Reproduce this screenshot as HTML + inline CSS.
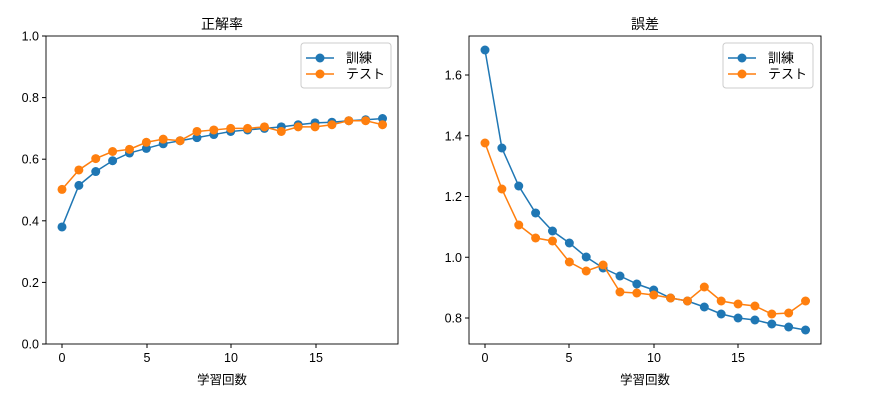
<!DOCTYPE html><html><head><meta charset="utf-8"><style>body{margin:0;background:#fff}svg{font-family:"Liberation Sans","Noto Sans CJK JP",sans-serif}</style></head><body>
<svg id="s" width="886" height="404" xmlns="http://www.w3.org/2000/svg"></svg>
<script>
const s=document.getElementById('s');let h='';
function axes(x0,x1,y0,y1,xs,yt,title,data,leg){
 h+=`<text x="${(x0+x1)/2}" y="${y0-7}" font-size="14" text-anchor="middle">${title}</text>`;
 xs.forEach(([v,p])=>{h+=`<line x1="${p}" y1="${y1}" x2="${p}" y2="${y1+4}" stroke="#000"/><text x="${p}" y="${y1+18}" font-size="12.5" text-anchor="middle">${v}</text>`});
 yt.forEach(([v,p])=>{h+=`<line x1="${x0-4}" y1="${p}" x2="${x0}" y2="${p}" stroke="#000"/><text x="${x0-7}" y="${p+4.5}" font-size="12.5" text-anchor="end">${v}</text>`});
 h+=`<text x="${(x0+x1)/2}" y="${y1+40}" font-size="12.5" text-anchor="middle">学習回数</text>`;
 data.forEach(([c,ys,fx])=>{let pts=ys.map((y,i)=>[fx(i),y]);h+=`<polyline fill="none" stroke="${c}" stroke-width="1.5" points="${pts.map(p=>p.join(',')).join(' ')}"/>`;pts.forEach(p=>h+=`<circle cx="${p[0]}" cy="${p[1]}" r="4.5" fill="${c}"/>`)});
 h+=`<rect x="${x0}" y="${y0}" width="${x1-x0}" height="${y1-y0}" fill="none" stroke="#000" stroke-width="0.9"/>`;
 const lx=leg;h+=`<rect x="${lx}" y="43" width="90" height="45" rx="3" fill="#fff" fill-opacity="0.8" stroke="#ccc"/>`;
 [['#1f77b4','訓練',58],['#ff7f0e','テスト',74]].forEach(([c,t,y])=>{h+=`<line x1="${lx+5}" y1="${y}" x2="${lx+33}" y2="${y}" stroke="${c}" stroke-width="1.5"/><circle cx="${lx+19}" cy="${y}" r="4.5" fill="${c}"/><text x="${lx+45}" y="${y+4.5}" font-size="13">${t}</text>`});
}
const lt=[.38,.515,.56,.595,.62,.635,.65,.66,.67,.68,.69,.695,.70,.705,.712,.718,.72,.725,.728,.732].map(v=>344-308*v);
const le=[.502,.565,.602,.625,.632,.655,.665,.66,.69,.695,.70,.70,.705,.69,.705,.705,.712,.725,.725,.712].map(v=>344-308*v);
const fl=i=>62+16.87*i,fr=i=>485+16.87*i;
axes(46,398,36,344,[[0,62],[5,147],[10,231],[15,316]],[0,.2,.4,.6,.8,1].map(v=>[v.toFixed(1),344-308*v]),'正解率',[['#1f77b4',lt,fl],['#ff7f0e',le,fl]],301);
const rt=[50,148,186,213,231,243,257,268,276,284,290,298,301,307,314,318,320,324,327,330];
const re=[143,189,225,238,241,262,271,265,292,293,295,298,301,287,301,304,306,314,313,301];
axes(469,821,36,344,[[0,485],[5,569],[10,654],[15,738]],[.8,1,1.2,1.4,1.6].map(v=>[v.toFixed(1),318-(v-.8)*303.75]),'誤差',[['#1f77b4',rt,fr],['#ff7f0e',re,fr]],723);
s.innerHTML=h;
</script></body></html>
